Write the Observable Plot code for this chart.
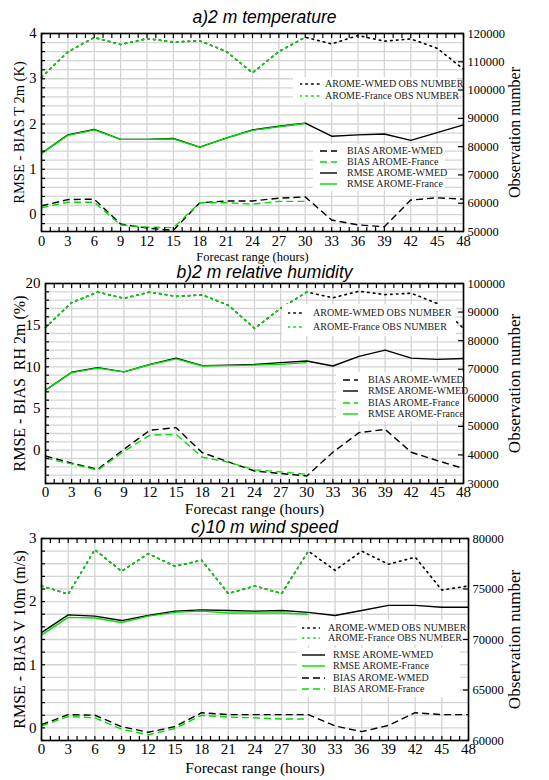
<!DOCTYPE html>
<html><head><meta charset="utf-8">
<script src="https://cdn.jsdelivr.net/npm/d3@7"></script>
<script src="https://cdn.jsdelivr.net/npm/@observablehq/plot@0.6"></script>
<style>
body{margin:0;background:#fff;}
#root{position:relative;width:549px;height:780px;overflow:hidden;background:#fff;}
.panel{position:absolute;left:0;width:549px;}
.legend{position:absolute;background:#fff;font-family:"Liberation Serif","DejaVu Serif",serif;color:#222;font-size:10px;}
.legend .row{position:absolute;left:0;height:12px;line-height:12px;white-space:nowrap;}
.legend svg{position:absolute;top:0;}
.legend span{position:absolute;top:0;}
</style></head><body><div id="root"></div>
<script>
// ---- shared ----
const hours = [0,3,6,9,12,15,18,21,24,27,30,33,36,39,42,45,48];
const hoursFr = [0,3,6,9,12,15,18,21,24,27,30];
const minorHours = d3.range(0, 49, 1);

// ---- a) 2 m temperature ----
const tRmseWmed = [1.35,1.76,1.88,1.66,1.66,1.68,1.49,1.69,1.87,1.95,2.02,1.73,1.76,1.78,1.64,1.81,1.98];
const tRmseFr   = [1.35,1.75,1.87,1.66,1.66,1.67,1.49,1.69,1.86,1.94,2.01];
const tBiasWmed = [0.19,0.33,0.34,-0.21,-0.30,-0.35,0.26,0.30,0.30,0.36,0.39,-0.12,-0.23,-0.27,0.32,0.37,0.34];
const tBiasFr   = [0.15,0.27,0.27,-0.23,-0.28,-0.29,0.26,0.26,0.23,0.29,0.29];
const tObsWmed  = [104500,113500,118600,116100,118200,117000,117400,113700,106100,113600,118700,116300,119300,117300,118100,114800,107400];
const tObsFr    = [104500,113500,118600,116100,118200,117000,117400,113700,106100,113600,118700];
const tTicks    = [0,1,2,3,4];
const tObsTicks = [50000,60000,70000,80000,90000,100000,110000,120000];

// ---- b) 2 m relative humidity ----
const rhRmseWmed = [7.2,9.35,9.9,9.4,10.3,11.05,10.15,10.2,10.3,10.5,10.7,10.1,11.25,12.0,11.05,10.9,11.0];
const rhRmseFr   = [7.2,9.3,9.85,9.4,10.25,10.95,10.1,10.15,10.2,10.3,10.5];
const rhBiasWmed = [-0.7,-1.55,-2.3,0.1,2.4,2.7,-0.3,-1.4,-2.5,-2.8,-3.1,-0.25,2.1,2.5,-0.25,-1.25,-2.2];
const rhBiasFr   = [-0.95,-1.65,-2.4,-0.15,1.8,1.9,-0.85,-1.45,-2.35,-2.6,-2.9];
const rhObsWmed  = [84600,93300,97000,94800,97000,95500,96000,92400,84300,91300,97000,95000,97300,96100,96600,93000,84300];
const rhObsFr    = [84600,93300,97000,94800,97000,95500,96000,92400,84300,91300,97000];
const rhTicks    = [0,5,10,15,20];
const rhObsTicks = [30000,40000,50000,60000,70000,80000,90000,100000];

// ---- c) 10 m wind speed ----
const wsRmseWmed = [1.51,1.79,1.77,1.70,1.78,1.85,1.87,1.86,1.85,1.86,1.83,1.78,1.86,1.94,1.94,1.91,1.91];
const wsRmseFr   = [1.47,1.75,1.74,1.67,1.77,1.83,1.85,1.82,1.82,1.82,1.80];
const wsBiasWmed = [0.05,0.21,0.20,0.02,-0.07,0.02,0.24,0.21,0.21,0.21,0.21,0.03,-0.06,0.04,0.24,0.21,0.21];
const wsBiasFr   = [0.03,0.18,0.16,-0.02,-0.11,-0.01,0.20,0.17,0.16,0.14,0.14];
const wsObsWmed  = [75300,74500,78900,76750,78500,77250,77850,74550,75300,74550,78750,76850,78750,77450,78150,74900,75300];
const wsObsFr    = [75300,74500,78900,76750,78500,77250,77850,74550,75300,74550,78750];
const wsTicks    = [0,1,2,3];
const wsObsTicks = [60000,65000,70000,75000,80000];

const BLACK = "#000", GREEN = "#00e000";
const DASH = "7,4", DOT = "1.6,4.2";
const serif = "Liberation Serif, DejaVu Serif, serif";
const sans = "Liberation Sans, Arial, sans-serif";

const S = {
  rmseW: {label:"RMSE AROME-WMED", color:BLACK, dash:null},
  rmseF: {label:"RMSE AROME-France", color:GREEN, dash:null},
  biasW: {label:"BIAS AROME-WMED", color:BLACK, dash:DASH},
  biasF: {label:"BIAS AROME-France", color:GREEN, dash:DASH},
  obsW:  {label:"AROME-WMED OBS NUMBER", color:BLACK, dash:DOT},
  obsF:  {label:"AROME-France OBS NUMBER", color:GREEN, dash:DOT}
};

// frame positions in page pixels: fx0..fx1, fy0..fy1
const panels = [
  {top:0, height:264, fx0:41, fx1:463, fy0:33, fy1:231,
   yDomain:[-0.375,4], obsDomain:[50000,120000], yTicks:tTicks, obsTicks:tObsTicks, gridStep:0.2,
   title:"a)2 m temperature", titleY:17, ylabel:"RMSE - BIAS T 2m (K)", xlabelY:256, xlabelSize:12.5,
   tickSize:14.5, tickPad:4, ylabelSize:14.5, rlabelSize:16,
   data:{rmseW:tRmseWmed, rmseF:tRmseFr, biasW:tBiasWmed, biasF:tBiasFr, obsW:tObsWmed, obsF:tObsFr},
   legends:[
     {x:293, y:77, w:164, h:25, r0:7, gap:12, sx:7, sw:23, tx:32, items:["obsW","obsF"]},
     {x:313, y:144, w:132, h:47, r0:7, gap:11.1, sx:7, sw:17, tx:34, items:["biasW","biasF","rmseW","rmseF"]}
   ]},
  {top:252, height:272, fx0:45, fx1:463, fy0:283, fy1:483,
   yDomain:[-4,20], obsDomain:[30000,100000], yTicks:rhTicks, obsTicks:rhObsTicks, gridStep:1,
   title:"b)2 m relative humidity", titleY:272, ylabel:"RMSE - BIAS  RH 2m (%)", xlabelY:509, xlabelSize:15.5,
   tickSize:15, tickPad:3, ylabelSize:16, rlabelSize:17,
   data:{rmseW:rhRmseWmed, rmseF:rhRmseFr, biasW:rhBiasWmed, biasF:rhBiasFr, obsW:rhObsWmed, obsF:rhObsFr},
   legends:[
     {x:282, y:304, w:174, h:32, r0:9.3, gap:13.4, sx:6, sw:17, tx:31, items:["obsW","obsF"]},
     {x:336, y:372, w:127, h:49, r0:8, gap:11.4, sx:7, sw:15, tx:32, items:["biasW","rmseW","biasF","rmseF"]}
   ]},
  {top:510, height:270, fx0:41, fx1:468, fy0:538, fy1:740,
   yDomain:[-0.2,3], obsDomain:[60000,80000], yTicks:wsTicks, obsTicks:wsObsTicks, gridStep:0.2,
   title:"c)10 m wind speed", titleY:527, ylabel:"RMSE - BIAS V 10m (m/s)", xlabelY:768, xlabelSize:15.5,
   tickSize:15, tickPad:3, ylabelSize:16, rlabelSize:17,
   data:{rmseW:wsRmseWmed, rmseF:wsRmseFr, biasW:wsBiasWmed, biasF:wsBiasFr, obsW:wsObsWmed, obsF:wsObsFr},
   legends:[
     {x:297, y:620, w:165, h:25, r0:7.7, gap:10.6, sx:5, sw:18, tx:31, items:["obsW","obsF"]},
     {x:297, y:648, w:163, h:49, r0:7, gap:11.3, sx:5, sw:23, tx:36, items:["rmseW","rmseF","biasW","biasF"]}
   ]}
];

const root = document.getElementById("root");

for (const p of panels) {
  const [y0, y1] = p.yDomain, [o0, o1] = p.obsDomain;
  const toY = v => y0 + (v - o0) / (o1 - o0) * (y1 - y0);
  const fromY = v => o0 + (v - y0) / (y1 - y0) * (o1 - o0);
  const rows = (key, conv) => {
    const ys = p.data[key];
    const xs = ys.length === hours.length ? hours : hoursFr;
    return xs.map((h, i) => ({h, v: conv ? toY(ys[i]) : ys[i]}));
  };
  const gridVals = d3.range(Math.ceil(y0 / p.gridStep - 1e-9), Math.floor(y1 / p.gridStep + 1e-9) + 1).map(k => +(k * p.gridStep).toFixed(4));
  const line = (key, conv) => Plot.line(rows(key, conv), {
    x: "h", y: "v", stroke: S[key].color, strokeWidth: S[key].dash === DOT ? 1.6 : 1.4,
    strokeDasharray: S[key].dash || undefined, strokeLinecap: S[key].dash === DOT ? "round" : "butt"
  });
  const mt = p.fy0 - p.top, mb = p.top + p.height - p.fy1, ml = p.fx0, mr = 549 - p.fx1;
  const frameCenter = (p.fx0 + p.fx1) / 2;
  const txt = {fontFamily: serif, fill: "#000", lineAnchor: "middle", textAnchor: "middle"};
  const chart = Plot.plot({
    width: 549, height: p.height,
    marginTop: mt, marginBottom: mb, marginLeft: ml, marginRight: mr,
    x: {domain: [0, 48]},
    y: {domain: p.yDomain},
    style: {background: "transparent", fontFamily: serif, color: "#000"},
    marks: [
      Plot.gridY({ticks: gridVals, stroke: "#d4d4d4", strokeOpacity: 1, strokeWidth: 1.3}),
      Plot.gridX({ticks: hours, stroke: "#d4d4d4", strokeOpacity: 1, strokeWidth: 1.3}),
      line("obsW", true), line("obsF", true),
      line("rmseW"), line("rmseF"),
      line("biasW"), line("biasF"),
      Plot.frame({stroke: "#000", strokeWidth: 1.6}),
      // inward minor ticks
      Plot.axisX({anchor: "bottom", ticks: minorHours, tickSize: -4, tickFormat: () => "", label: null, strokeWidth: 1.2}),
      Plot.axisX({anchor: "top", ticks: minorHours, tickSize: -4, tickFormat: () => "", label: null, strokeWidth: 1.2}),
      Plot.axisY({anchor: "left", ticks: gridVals, tickSize: -4, tickFormat: () => "", label: null, strokeWidth: 1.2}),
      Plot.axisY({anchor: "right", ticks: p.obsTicks.map(toY), tickSize: -6, tickFormat: () => "", label: null, strokeWidth: 1.2}),
      // tick labels
      Plot.axisX({anchor: "bottom", ticks: hours, tickSize: 0, tickPadding: p.tickPad, fontSize: p.tickSize, label: null, fontFamily: serif, tickFormat: d => String(d)}),
      Plot.axisY({anchor: "left", ticks: p.yTicks, tickSize: 0, tickPadding: 5, fontSize: p.tickSize, label: null, fontFamily: serif, tickFormat: d => String(d)}),
      Plot.axisY({anchor: "right", ticks: p.obsTicks.map(toY), tickSize: 0, tickPadding: 4, fontSize: 12.5, label: null, fontFamily: serif,
                  tickFormat: d => String(Math.round(fromY(d) / 1000) * 1000)}),
      // titles and labels
      Plot.text([p.title], {...txt, text: d => d, frameAnchor: "top", dy: p.titleY - p.fy0, dx: 264 - frameCenter, fontSize: 17.5, fontStyle: "italic", fontFamily: sans}),
      Plot.text(["Forecast range (hours)"], {...txt, text: d => d, frameAnchor: "bottom", dy: p.xlabelY - p.fy1, fontSize: p.xlabelSize}),
      Plot.text([p.ylabel], {...txt, text: d => d, frameAnchor: "left", rotate: -90, dx: 19 - p.fx0, fontSize: p.ylabelSize}),
      Plot.text(["Observation number"], {...txt, text: d => d, frameAnchor: "right", rotate: -90, dx: 514 - p.fx1, fontSize: p.rlabelSize})
    ]
  });
  const div = document.createElement("div");
  div.className = "panel";
  div.style.top = p.top + "px";
  div.appendChild(chart);
  root.appendChild(div);

  for (const L of p.legends) {
    const lg = document.createElement("div");
    lg.className = "legend";
    Object.assign(lg.style, {left: L.x + "px", top: L.y + "px", width: L.w + "px", height: L.h + "px"});
    L.items.forEach((key, i) => {
      const s = S[key];
      const row = document.createElement("div");
      row.className = "row";
      row.style.top = (L.r0 + i * L.gap - 6) + "px";
      row.style.width = L.w + "px";
      const svg = d3.create("svg").attr("width", L.sw).attr("height", 12).style("left", L.sx + "px");
      svg.append("line").attr("x1", 0).attr("x2", L.sw).attr("y1", 6).attr("y2", 6)
        .attr("stroke", s.color).attr("stroke-width", s.dash === DOT ? 1.6 : 1.4)
        .attr("stroke-dasharray", s.dash || null).attr("stroke-linecap", s.dash === DOT ? "round" : "butt");
      row.appendChild(svg.node());
      const sp = document.createElement("span");
      sp.style.left = L.tx + "px";
      sp.textContent = s.label;
      row.appendChild(sp);
      lg.appendChild(row);
    });
    root.appendChild(lg);
  }
}
</script>
</body></html>
